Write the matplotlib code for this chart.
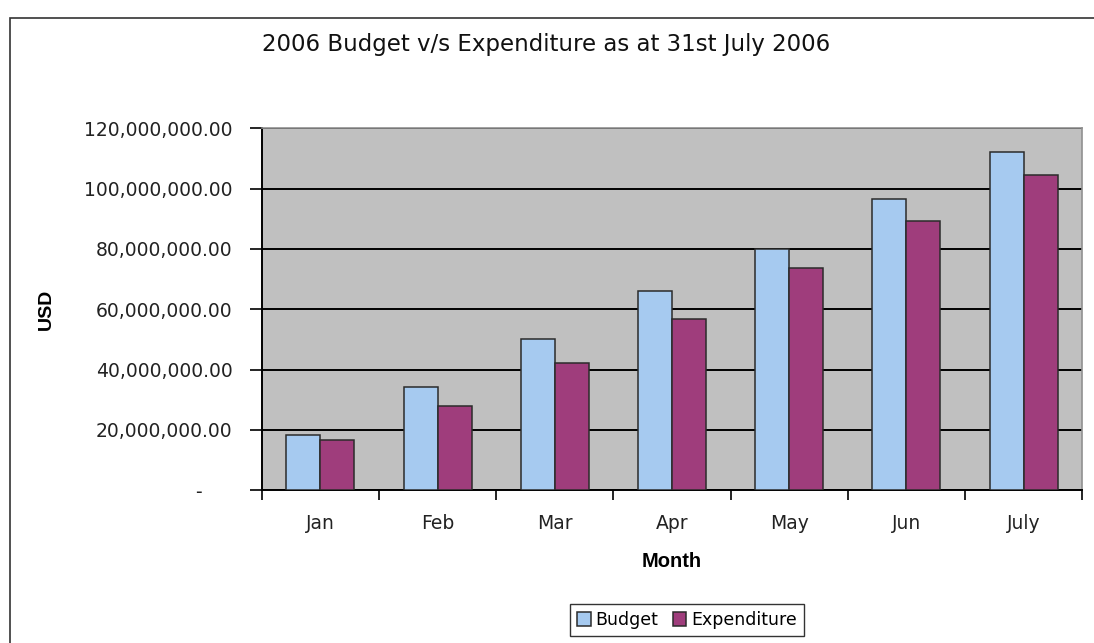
import matplotlib.pyplot as plt
import matplotlib.patches as mpatches
import numpy as np

# monthly figures in USD
months = ["Jan", "Feb", "Mar", "Apr", "May", "Jun", "July"]
budget = [18.3e6, 34.3e6, 50.3e6, 66.1e6, 80.0e6, 96.6e6, 112.0e6]
expenditure = [16.8e6, 27.9e6, 42.2e6, 56.7e6, 73.7e6, 89.2e6, 104.5e6]
yticks = [0, 20e6, 40e6, 60e6, 80e6, 100e6, 120e6]

fig = plt.figure(figsize=(10.94, 6.43), dpi=100)
ax = fig.add_axes([0.2392, 0.2375, 0.7501, 0.563])

#outer chart border (only left/top visible in the original crop)
fig.patches.append(mpatches.Rectangle((10 / 1094, -0.1), 1.2, 1 - 18 / 643 + 0.1,
                                      transform=fig.transFigure, fill=False,
                                      edgecolor="#333333", linewidth=1.2))

x = np.arange(len(months))
w = 0.29
ax.set_facecolor("#C0C0C0")
ax.bar(x - w / 2, budget, w, color="#A6CAF0", edgecolor="#2b2b2b", linewidth=1.1,
       label="Budget", zorder=3)
ax.bar(x + w / 2, expenditure, w, color="#9F3D7C", edgecolor="#2b2b2b", linewidth=1.1,
       label="Expenditure", zorder=3)

ax.set_xlim(-0.5, len(months) - 0.5)
ax.set_ylim(0, 120e6)
ax.set_yticks(yticks)
ax.set_yticklabels(["-     " if v == 0 else "{:,.2f}".format(v) for v in yticks],
                   fontsize=13.5, color="#222222")
ax.yaxis.grid(True, color="black", linewidth=1.4, zorder=1)
ax.set_axisbelow(True)

ax.set_xticks(x)
ax.set_xticklabels(months, fontsize=13.5, color="#222222")
ax.tick_params(axis="x", length=0, pad=17)
ax.set_xticks(np.arange(-0.5, len(months)), minor=True)
ax.tick_params(axis="x", which="minor", length=7, width=1.2, direction="out")
ax.tick_params(axis="y", length=9, width=1.2, direction="out", pad=12)

for s in ["left", "bottom"]:
    ax.spines[s].set_color("black")
    ax.spines[s].set_linewidth(1.4)
for s in ["top", "right"]:
    ax.spines[s].set_color("#909090")
    ax.spines[s].set_linewidth(1.2)

ax.set_xlabel("Month", family="Liberation Sans", fontweight="bold", fontsize=14.5, labelpad=14)
ax.set_ylabel("USD", family="Liberation Sans", fontweight="bold", fontsize=14)
ax.yaxis.set_label_coords(-0.2525, 0.5)

fig.text(0.499, 1 - 44 / 643, "2006 Budget v/s Expenditure as at 31st July 2006",
         family="DejaVu Sans", fontsize=16.5, ha="center", va="center", color="#111111")

leg = ax.legend(loc="center", bbox_to_anchor=(687 / 1094, 1 - 620 / 643),
                bbox_transform=fig.transFigure, ncol=2, fontsize=12.5, frameon=True,
                fancybox=False, edgecolor="black", handlelength=0.8, handleheight=0.8,
                handletextpad=0.3, columnspacing=0.8, borderpad=0.4)
leg.get_frame().set_linewidth(1.0)

fig.savefig("out.png", dpi=100)
